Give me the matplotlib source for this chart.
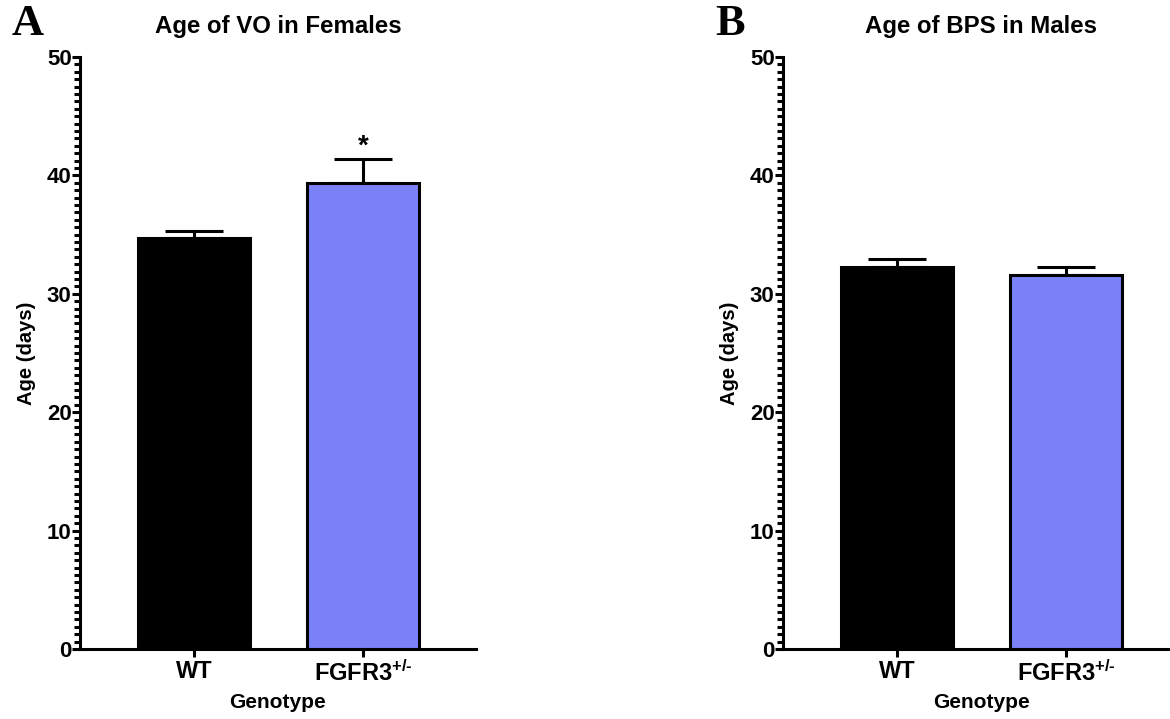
import matplotlib
matplotlib.use("Agg")
import matplotlib.pyplot as plt
from matplotlib.ticker import MultipleLocator

plt.rcParams['font.family'] = ['Liberation Sans', 'DejaVu Sans']
plt.rcParams['font.weight'] = 'bold'
plt.rcParams['mathtext.fontset'] = 'custom'
plt.rcParams['mathtext.rm'] = 'Liberation Sans:bold'
plt.rcParams['mathtext.bf'] = 'Liberation Sans:bold'

# data
genotypes = ["WT", "$\\mathbf{FGFR3^{+/\u2010}}$"]
vo_females = [34.7, 39.4]
vo_females_err = [0.6, 2.0]
bps_males = [32.3, 31.6]
bps_males_err = [0.6, 0.7]
colors = ["#000000", "#7B82F8"]

fig = plt.figure(figsize=(11.70, 7.19), dpi=100)

panels = [
    ("A", "Age of VO in Females", vo_females, vo_females_err, 80 / 1170),
    ("B", "Age of BPS in Males", bps_males, bps_males_err, 783 / 1170),
]

for letter, title, vals, errs, left in panels:
    width = 396 / 1170
    ax = fig.add_axes([left, 70 / 719, width, 592 / 719])
    x = range(len(vals))
    ax.bar(x, vals, width=0.66, color=colors, edgecolor="black", linewidth=2.2, zorder=2)
    ax.errorbar(x, vals, yerr=[[0] * len(errs), errs], fmt="none", ecolor="black",
                elinewidth=2.2, capsize=21, capthick=2.2, zorder=1)
    ax.set_xlim(-0.675, 1.669)
    ax.set_ylim(0, 50)
    ax.yaxis.set_major_locator(MultipleLocator(10))
    ax.yaxis.set_minor_locator(MultipleLocator(0.625))
    ax.set_xticks(list(x))
    ax.set_xticklabels(genotypes, fontsize=17, fontweight="bold")
    ax.tick_params(axis="y", which="major", length=6, width=2.2, labelsize=16, pad=0)
    ax.tick_params(axis="y", which="minor", length=4, width=2.2)
    ax.tick_params(axis="x", which="major", length=6, width=2.2, pad=2)
    for s in ["top", "right"]:
        ax.spines[s].set_visible(False)
    for s in ["left", "bottom"]:
        ax.spines[s].set_linewidth(2.2)
    ax.set_xlabel("Genotype", fontsize=15, fontweight="bold", labelpad=5)
    ax.set_ylabel("Age (days)", fontsize=14.5, fontweight="bold", labelpad=8)
    fig.text(left + width / 2, 1 - 27 / 719, title, fontsize=17.3, fontweight="bold",
             ha="center", va="center")
    fig.text(left - 68 / 1170, 1 - 24 / 719, letter, fontsize=32, fontweight="bold",
             family="Liberation Serif", va="center", ha="left")
    if letter == "A":
        ax.text(1, vals[1] + errs[1] + 1.0, "*", ha="center", va="center",
                fontsize=20, fontweight="bold")

fig.savefig("out.png", dpi=100)
